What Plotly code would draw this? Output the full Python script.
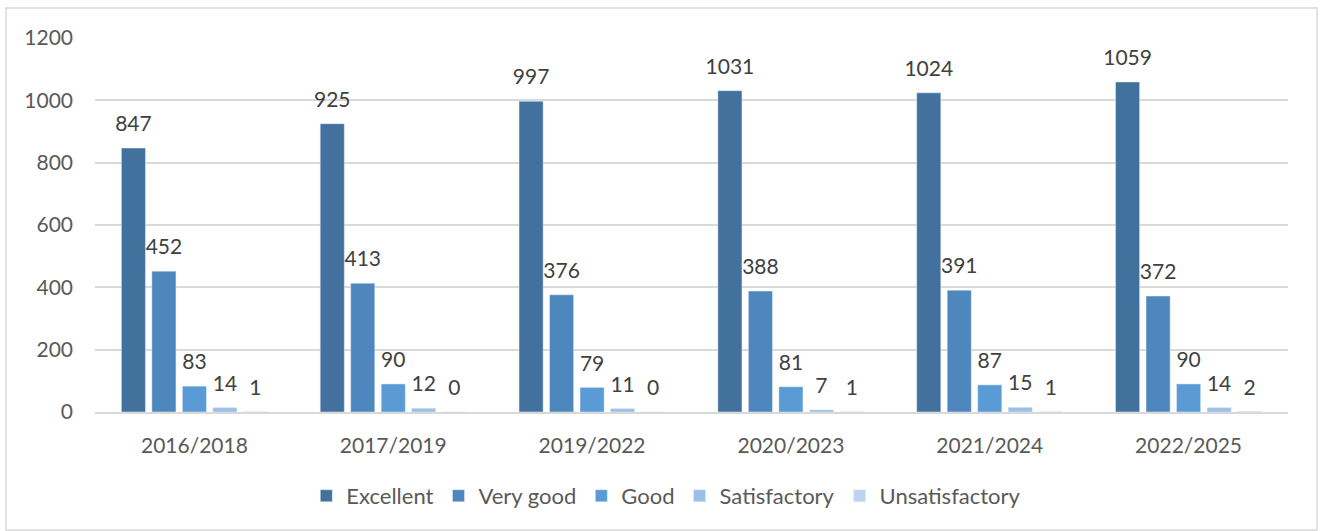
import plotly.graph_objects as go

categories = ["2016/2018", "2017/2019", "2019/2022", "2020/2023", "2021/2024", "2022/2025"]
excellent = [847, 925, 997, 1031, 1024, 1059]
very_good = [452, 413, 376, 388, 391, 372]
good = [83, 90, 79, 81, 87, 90]
satisfactory = [14, 12, 11, 7, 15, 14]
unsatisfactory = [1, 0, 0, 1, 1, 2]

series = [
    ("Excellent", excellent, "#43719D"),
    ("Very good", very_good, "#4D87BE"),
    ("Good", good, "#5B9BD5"),
    ("Satisfactory", satisfactory, "#9CC0E5"),
    ("Unsatisfactory", unsatisfactory, "#BCD5EE"),
]

FONT = "Lato"
FS = 21
GAP = 0.233
fig = go.Figure()
for i, (name, vals, col) in enumerate(series):
    fig.add_trace(go.Bar(
        x=categories, y=vals, name=name, marker_color=col,
        offsetgroup=str(i), hoverinfo="x+y+name",
    ))
for i, (name, vals, col) in enumerate(series):
    fig.add_trace(go.Scatter(
        x=categories, y=vals, mode="markers+text", text=[str(v) for v in vals],
        textposition="top center", offsetgroup=str(i), showlegend=False,
        marker=dict(size=17, opacity=0), cliponaxis=False, hoverinfo="skip",
        textfont=dict(family=FONT, size=FS, color="#404040"),
    ))

fig.update_layout(
    width=1322, height=531,
    margin=dict(l=95, r=34, t=38, b=119),
    paper_bgcolor="white", plot_bgcolor="white",
    barmode="group", bargap=GAP, bargroupgap=0.21,
    scattermode="group", scattergap=GAP,
    font=dict(family=FONT, size=FS, color="#595959"),
    xaxis=dict(showline=True, linecolor="#D9D9D9", linewidth=1.5,
               tickfont=dict(family=FONT, size=FS, color="#595959"),
               ticks="", ticklabelstandoff=14),
    yaxis=dict(range=[0, 1200], dtick=200, showgrid=True, gridcolor="#D9D9D9",
               gridwidth=1.5, zeroline=False, ticks="",
               tickfont=dict(family=FONT, size=FS, color="#595959"),
               ticklabelstandoff=21),
    legend=dict(orientation="h", xref="container", yref="container",
                x=0.504, xanchor="center", y=0.066, yanchor="middle",
                font=dict(family=FONT, size=22, color="#595959"),
                itemwidth=30, traceorder="normal"),
    showlegend=True,
    shapes=[dict(type="rect", xref="paper", yref="paper",
                 x0=-0.0746, x1=1.0243, y0=-0.3155, y1=1.0802,
                 line=dict(color="#D9D9D9", width=1.5), fillcolor="rgba(0,0,0,0)",
                 layer="below")],
)

fig.write_html("out.html", config={"displayModeBar": False},
               post_script="document.body.style.margin='0';")
